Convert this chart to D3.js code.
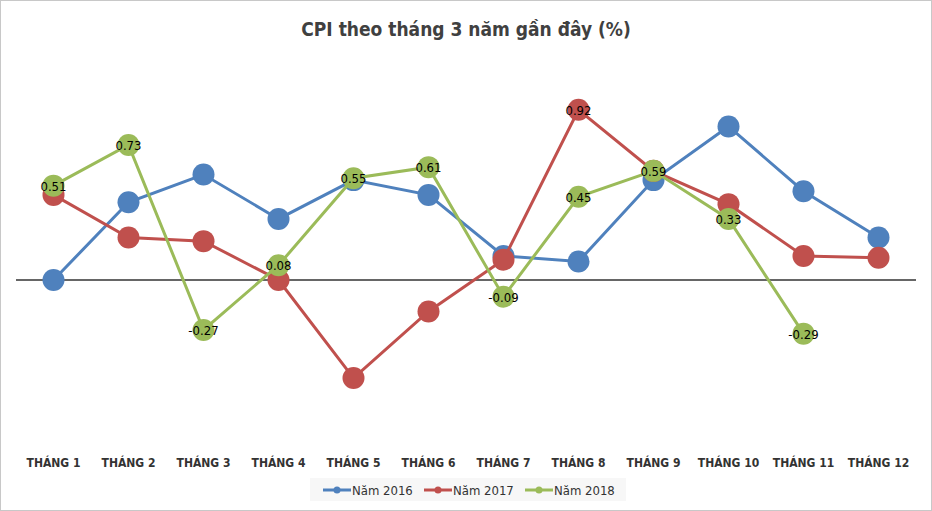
<!DOCTYPE html>
<html>
<head>
<meta charset="utf-8">
<script src="https://cdn.jsdelivr.net/npm/d3@7"></script>
<style>
  body { margin: 0; background: #fff; }
  text { font-family: "Liberation Sans Narrow", "DejaVu Sans Condensed", "Liberation Sans", sans-serif; }
</style>
</head>
<body>
<div id="chart"></div>
<script>
// CPI line chart: 3 years of monthly CPI change (%)
const months = ["THÁNG 1", "THÁNG 2", "THÁNG 3", "THÁNG 4", "THÁNG 5", "THÁNG 6",
                "THÁNG 7", "THÁNG 8", "THÁNG 9", "THÁNG 10", "THÁNG 11", "THÁNG 12"];
const seriesNames = ["Năm 2016", "Năm 2017", "Năm 2018"];
const cpi2016 = [0.00, 0.42, 0.57, 0.33, 0.54, 0.46, 0.13, 0.10, 0.54, 0.83, 0.48, 0.23];
const cpi2017 = [0.46, 0.23, 0.21, 0.00, -0.53, -0.17, 0.11, 0.92, 0.59, 0.41, 0.13, 0.12];
const cpi2018 = [0.51, 0.73, -0.27, 0.08, 0.55, 0.61, -0.09, 0.45, 0.59, 0.33, -0.29];
const colors = ["#4F81BD", "#C0504D", "#9BBB59"];
// which points carry a value label: [series index, month index]
const labelled2017 = [7];

const width = 932, height = 511;
const svg = d3.select("#chart").append("svg")
  .attr("width", width).attr("height", height);

// outer frame
svg.append("rect")
  .attr("x", 0.5).attr("y", 0.5)
  .attr("width", width - 1).attr("height", height - 1)
  .style("fill", "#fff").style("stroke", "#c8c8c8");

const x = d3.scaleBand().domain(months).range([16, 916]);
const y = d3.scaleLinear().domain([-1, 1.2]).range([465, 58]);
const cx = i => x(months[i]) + x.bandwidth() / 2;

// zero line
svg.append("line")
  .attr("x1", 16).attr("x2", 916)
  .attr("y1", y(0)).attr("y2", y(0))
  .style("stroke", "#333").style("stroke-width", 1.5);

// category labels
svg.append("g").selectAll("text").data(months).join("text")
  .attr("x", (d, i) => cx(i))
  .attr("y", 467)
  .attr("text-anchor", "middle")
  .style("font-size", "12px").style("font-weight", "bold").style("fill", "#333")
  .text(d => d);

const allSeries = [cpi2016, cpi2017, cpi2018];
const line = d3.line()
  .x((d, i) => cx(i))
  .y(d => y(d));

allSeries.forEach((vals, s) => {
  const g = svg.append("g");
  g.append("path")
    .datum(vals)
    .attr("d", line)
    .style("fill", "none")
    .style("stroke", colors[s])
    .style("stroke-width", 3);
  g.selectAll("circle").data(vals).join("circle")
    .attr("cx", (d, i) => cx(i))
    .attr("cy", d => y(d))
    .attr("r", 11)
    .style("fill", colors[s]);
});

// data labels: all of 2018, plus the 2017 peak
const labels = cpi2018.map((v, i) => ({ v, i }))
  .concat(labelled2017.map(i => ({ v: cpi2017[i], i })));

svg.append("g").selectAll("text").data(labels).join("text")
  .attr("x", d => cx(d.i))
  .attr("y", d => y(d.v) + 5)
  .attr("text-anchor", "middle")
  .style("font-size", "13px").style("fill", "#000")
  .text(d => d.v.toFixed(2));

// title
svg.append("text")
  .attr("x", width / 2).attr("y", 36)
  .attr("text-anchor", "middle")
  .style("font-size", "19px").style("font-weight", "bold").style("fill", "#404040")
  .text("CPI theo tháng 3 năm gần đây (%)");

// legend
const legend = svg.append("g");
legend.append("rect")
  .attr("x", 310).attr("y", 478).attr("width", 316).attr("height", 23)
  .style("fill", "#f7f7f7");
const legendX = [323, 424, 525];
seriesNames.forEach((name, s) => {
  const lg = legend.append("g").attr("transform", `translate(${legendX[s]},490)`);
  lg.append("line").attr("x1", 0).attr("x2", 28)
    .style("stroke", colors[s]).style("stroke-width", 3);
  lg.append("circle").attr("cx", 14).attr("r", 3.5).style("fill", colors[s]);
  lg.append("text").attr("x", 29).attr("y", 5)
    .style("font-size", "13px").style("fill", "#333")
    .text(name);
});
</script>
</body>
</html>
